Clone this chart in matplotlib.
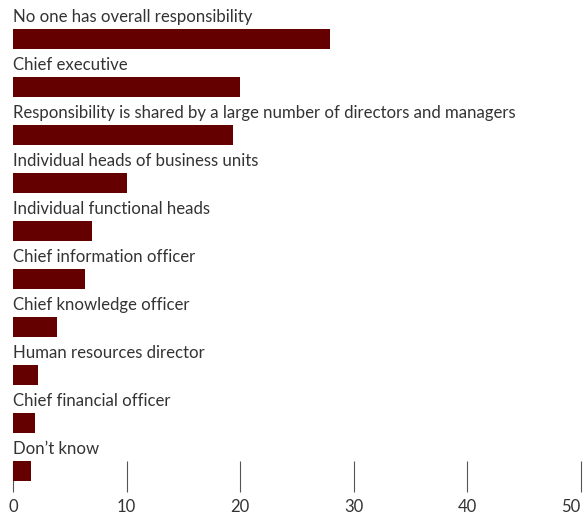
import matplotlib
matplotlib.use('Agg')
import matplotlib.pyplot as plt

# survey answers, top to bottom
labels = [
    'No one has overall responsibility',
    'Chief executive',
    'Responsibility is shared by a large number of directors and managers',
    'Individual heads of business units',
    'Individual functional heads',
    'Chief information officer',
    'Chief knowledge officer',
    'Human resources director',
    'Chief financial officer',
    'Don\u2019t know',
]
values = [27.9, 20.0, 19.4, 10.0, 7.0, 6.3, 3.9, 2.2, 1.9, 1.6]
xticks = [0, 10, 20, 30, 40, 50]

BAR = '#650000'
TXT = '#333333'
plt.rcParams['font.family'] = ['Lato', 'DejaVu Sans']

fig = plt.figure(figsize=(5.86, 5.17), dpi=100)
ax = fig.add_axes([13 / 586, 25 / 517, 567.5 / 586, 492 / 517])

pos = list(range(len(values)))
ax.barh(pos, values, height=0.42, color=BAR, zorder=3)
for i, lab in enumerate(labels):
    ax.text(0, i - 0.36, lab, ha='left', va='baseline', fontsize=12.1, color=TXT)

ax.set_xlim(0, 50)
ax.set_ylim(9.4375, -0.8125)
ax.set_xticks(xticks)
ax.set_xticklabels([str(t) for t in xticks])
ax.set_yticks([])
ax.tick_params(axis='x', direction='in', length=22.3, width=0.8, color='#555555',
               labelsize=12, labelcolor=TXT, pad=5)
# keep the last label inside the figure
ax.get_xticklabels()[-1].set_horizontalalignment('right')
for s in ax.spines.values():
    s.set_visible(False)
ax.patch.set_visible(False)

fig.savefig('out.png', dpi=100, facecolor='white')
